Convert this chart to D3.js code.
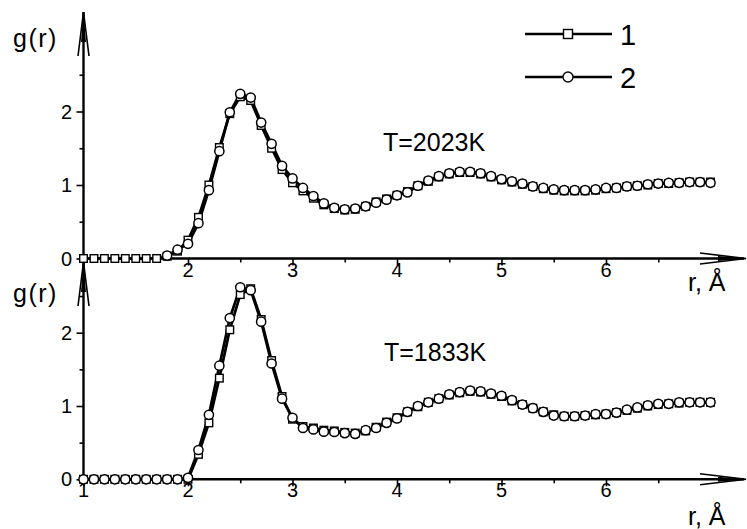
<!DOCTYPE html>
<html>
<head>
<meta charset="utf-8">
<script src="https://cdn.jsdelivr.net/npm/d3@7"></script>
<style>
  body { margin: 0; background: #fff; }
  svg text { font-family: "Liberation Sans", Arial, sans-serif; fill: #000; }
</style>
</head>
<body>
<script>
// r grid, Angstrom
var rValues = [1.0,1.1,1.2,1.3,1.4,1.5,1.6,1.7,1.8,1.9,
  2.0,2.1,2.2,2.3,2.4,2.5,2.6,2.7,2.8,2.9,
  3.0,3.1,3.2,3.3,3.4,3.5,3.6,3.7,3.8,3.9,
  4.0,4.1,4.2,4.3,4.4,4.5,4.6,4.7,4.8,4.9,
  5.0,5.1,5.2,5.3,5.4,5.5,5.6,5.7,5.8,5.9,
  6.0,6.1,6.2,6.3,6.4,6.5,6.6,6.7,6.8,6.9,7.0]

// T=2023K
var top1 = [0,0,0,0,0,0,0,0,0.03,0.1,
  0.25,0.56,1.0,1.51,1.97,2.2,2.15,1.81,1.5,1.21,
  1.03,0.92,0.82,0.73,0.68,0.66,0.67,0.71,0.77,0.81,
  0.86,0.91,0.99,1.05,1.11,1.15,1.17,1.17,1.15,1.11,
  1.07,1.04,1.01,0.98,0.95,0.93,0.92,0.92,0.92,0.93,
  0.95,0.96,0.98,0.99,1.0,1.02,1.02,1.03,1.04,1.04,1.04]
var top2 = [null,null,null,null,null,null,null,null,0.04,0.12,
  0.2,0.48,0.93,1.46,1.99,2.24,2.19,1.85,1.56,1.26,
  1.09,0.96,0.85,0.75,0.69,0.67,0.68,0.71,0.76,0.8,
  0.86,0.9,0.99,1.06,1.12,1.16,1.18,1.18,1.16,1.12,
  1.08,1.05,1.02,0.98,0.96,0.94,0.93,0.93,0.93,0.94,
  0.96,0.96,0.98,0.99,1.01,1.02,1.03,1.03,1.04,1.04,1.03]

// T=1833K
var bot1 = [0,0,0,0,0,0,0,0,0,0,
  0,0.34,0.77,1.38,2.04,2.52,2.6,2.18,1.62,1.13,
  0.82,0.72,0.7,0.67,0.66,0.64,0.63,0.66,0.71,0.78,
  0.84,0.92,0.99,1.05,1.1,1.15,1.18,1.2,1.19,1.16,
  1.13,1.07,1.02,0.97,0.92,0.88,0.86,0.86,0.87,0.88,
  0.89,0.91,0.94,0.97,1.0,1.02,1.03,1.04,1.05,1.05,1.05]
var bot2 = [0,0,0,0,0,0,0,0,0,0,
  0.02,0.4,0.88,1.55,2.2,2.62,2.58,2.15,1.58,1.1,
  0.84,0.7,0.68,0.65,0.645,0.63,0.62,0.67,0.7,0.77,
  0.83,0.92,1.0,1.05,1.1,1.16,1.19,1.21,1.2,1.17,
  1.14,1.08,1.02,0.97,0.92,0.87,0.86,0.86,0.87,0.89,
  0.89,0.91,0.95,0.98,1.01,1.03,1.03,1.05,1.05,1.05,1.05]

var xTicks = [1,2,3,4,5,6]
var xMinor = [1.5,2.5,3.5,4.5,5.5,6.5]
var yTicks = [0,1,2]
var yMinor = [0.5,1.5,2.5]
var legendLabels = ["1","2"]
var tempLabels = ["T=2023K","T=1833K"]

var svg = d3.select("body").append("svg")
  .attr("width", 747)
  .attr("height", 529)

var x = d3.scaleLinear().domain([1, 6]).range([83.5, 606])

var panels = [
  { s1: top1, s2: top2, y: d3.scaleLinear().domain([0, 2]).range([258.5, 111.5]),
    yTop: 12, label: tempLabels[0], lx: 383, ly: 151, xlabels: xTicks.slice(1), gy: 47, rly: 291 },
  { s1: bot1, s2: bot2, y: d3.scaleLinear().domain([0, 2]).range([479.3, 332.7]),
    yTop: 262, label: tempLabels[1], lx: 384, ly: 361, xlabels: xTicks, gy: 302, rly: 525 }
]

panels.forEach(function(p) {
  var g = svg.append("g")
  var y0 = p.y(0)

  // x axis ticks
  var xAxis = d3.axisBottom(x).tickValues(xTicks).tickSize(7).tickFormat("")
  g.append("g").attr("transform", "translate(0," + y0 + ")").call(xAxis)
  var xAxisMinor = d3.axisBottom(x).tickValues(xMinor).tickSize(4).tickFormat("")
  g.append("g").attr("transform", "translate(0," + y0 + ")").call(xAxisMinor)

  // y axis ticks
  var yAxis = d3.axisLeft(p.y).tickValues(yTicks).tickSize(7).tickFormat("")
  g.append("g").attr("transform", "translate(" + x(1) + ",0)").call(yAxis)
  var yAxisMinor = d3.axisLeft(p.y).tickValues(yMinor).tickSize(4).tickFormat("")
  g.append("g").attr("transform", "translate(" + x(1) + ",0)").call(yAxisMinor)

  g.selectAll(".domain").remove()
  g.selectAll(".tick line").attr("stroke", "#000").attr("stroke-width", 1.6)

  // axis lines + arrows
  g.append("line").attr("x1", x(1)).attr("x2", 744).attr("y1", y0).attr("y2", y0)
    .attr("stroke", "#000").attr("stroke-width", 2.4)
  g.append("line").attr("x1", x(1)).attr("x2", x(1)).attr("y1", y0).attr("y2", p.yTop)
    .attr("stroke", "#000").attr("stroke-width", 2.4)
  g.append("path")
    .attr("d", "M700," + (y0 - 5.5) + "L746," + y0 + "L700," + (y0 + 5.5))
    .attr("fill", "none").attr("stroke", "#000").attr("stroke-width", 1.6)
  g.append("path")
    .attr("d", "M718," + (y0 - 2.5) + "L746," + y0 + "L718," + (y0 + 2.5) + "Z")
    .attr("fill", "#000")
  g.append("path")
    .attr("d", "M" + (x(1) - 5.5) + "," + (p.yTop + 44) + "L" + x(1) + "," + p.yTop + "L" + (x(1) + 5.5) + "," + (p.yTop + 44))
    .attr("fill", "none").attr("stroke", "#000").attr("stroke-width", 1.6)
  g.append("path")
    .attr("d", "M" + (x(1) - 2.5) + "," + (p.yTop + 30) + "L" + x(1) + "," + p.yTop + "L" + (x(1) + 2.5) + "," + (p.yTop + 30) + "Z")
    .attr("fill", "#000")

  // tick labels
  g.selectAll(".xl").data(p.xlabels).enter().append("text")
    .attr("x", d => x(d)).attr("y", y0 + 18)
    .attr("text-anchor", "middle").attr("font-size", 20)
    .text(d => d)
  g.selectAll(".yl").data(yTicks).enter().append("text")
    .attr("x", 72).attr("y", d => p.y(d) + 7)
    .attr("text-anchor", "end").attr("font-size", 20)
    .text(d => d)

  g.append("text").attr("x", 13).attr("y", p.gy).attr("font-size", 25)
    .attr("letter-spacing", 1.5).text("g(r)")
  g.append("text").attr("x", 688).attr("y", p.rly).attr("font-size", 25)
    .text("r, Å")
  g.append("text").attr("x", p.lx).attr("y", p.ly).attr("font-size", 25)
    .text(p.label)

  // curves
  var line1 = d3.line().x((d, i) => x(rValues[i])).y(d => p.y(d))
  var line2 = d3.line().defined(d => d != null).x((d, i) => x(rValues[i])).y(d => p.y(d))
  g.append("path").datum(p.s1).attr("d", line1)
    .attr("fill", "none").attr("stroke", "#000").attr("stroke-width", 2.7)
  g.append("path").datum(p.s2).attr("d", line2)
    .attr("fill", "none").attr("stroke", "#000").attr("stroke-width", 2.7)

  g.selectAll(".sq").data(p.s1).enter().append("rect")
    .attr("x", (d, i) => x(rValues[i]) - 3.8)
    .attr("y", d => p.y(d) - 3.8)
    .attr("width", 7.6).attr("height", 7.6)
    .attr("fill", "#fff").attr("stroke", "#000").attr("stroke-width", 1.4)
  g.selectAll(".ci").data(p.s2.map((d, i) => [rValues[i], d]).filter(d => d[1] != null))
    .enter().append("circle")
    .attr("cx", d => x(d[0]))
    .attr("cy", d => p.y(d[1]))
    .attr("r", 4.6)
    .attr("fill", "#fff").attr("stroke", "#000").attr("stroke-width", 1.5)
})

// legend
var legendY = [34, 77]
legendY.forEach(function(ly, i) {
  svg.append("line").attr("x1", 525).attr("x2", 612).attr("y1", ly).attr("y2", ly)
    .attr("stroke", "#000").attr("stroke-width", 2.4)
  if (i == 0) {
    svg.append("rect").attr("x", 563.5).attr("y", ly - 4.5).attr("width", 9).attr("height", 9)
      .attr("fill", "#fff").attr("stroke", "#000").attr("stroke-width", 1.4)
  } else {
    svg.append("circle").attr("cx", 568).attr("cy", ly).attr("r", 5)
      .attr("fill", "#fff").attr("stroke", "#000").attr("stroke-width", 1.4)
  }
  svg.append("text").attr("x", 620).attr("y", ly + 11).attr("font-size", 29)
    .text(legendLabels[i])
})
</script>
</body>
</html>
